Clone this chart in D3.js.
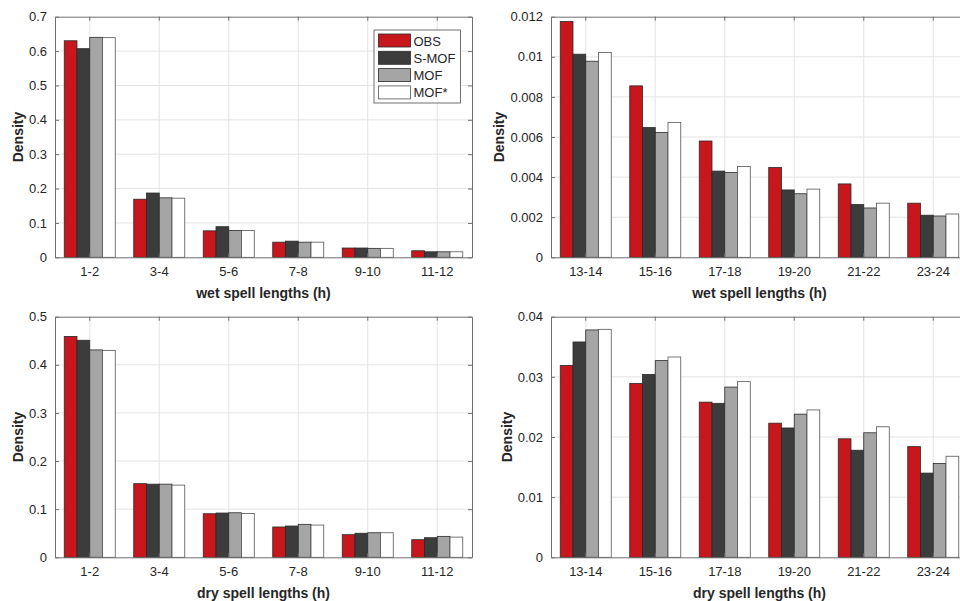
<!DOCTYPE html>
<html>
<head>
<meta charset="utf-8">
<script src="https://cdn.jsdelivr.net/npm/d3@7"></script>
<style>
  body { margin: 0; background: #fff; }
  svg { display: block; font-family: "Liberation Sans", Arial, Helvetica, sans-serif; }
</style>
</head>
<body>
<div class="vis-chart"></div>
<script>
const series = ['OBS', 'S-MOF', 'MOF', 'MOF*'];
const seriesColors = ['#c8161d', '#3c3c3c', '#a5a5a5', '#ffffff'];

const catsShort = ['1-2', '3-4', '5-6', '7-8', '9-10', '11-12'];
const catsLong = ['13-14', '15-16', '17-18', '19-20', '21-22', '23-24'];

// wet spells, short lengths  [OBS, S-MOF, MOF, MOF*]
const wetShort = [
  [0.630, 0.607, 0.640, 0.639],
  [0.169, 0.187, 0.173, 0.172],
  [0.077, 0.089, 0.078, 0.078],
  [0.044, 0.047, 0.044, 0.044],
  [0.027, 0.027, 0.026, 0.026],
  [0.019, 0.016, 0.016, 0.016]
];
// wet spells, long lengths
const wetLong = [
  [0.01176, 0.01013, 0.00978, 0.01021],
  [0.00855, 0.00647, 0.00623, 0.00673],
  [0.00580, 0.00430, 0.00423, 0.00453],
  [0.00448, 0.00336, 0.00317, 0.00340],
  [0.00366, 0.00263, 0.00246, 0.00270],
  [0.00270, 0.00210, 0.00206, 0.00216]
];
// dry spells, short lengths
const dryShort = [
  [0.459, 0.451, 0.431, 0.430],
  [0.153, 0.152, 0.152, 0.150],
  [0.0905, 0.092, 0.0925, 0.091],
  [0.063, 0.065, 0.0685, 0.067],
  [0.047, 0.050, 0.051, 0.051],
  [0.0366, 0.0407, 0.0435, 0.042]
];
// dry spells, long lengths
const dryLong = [
  [0.0319, 0.0358, 0.0378, 0.0379],
  [0.0289, 0.0304, 0.0327, 0.0333],
  [0.0258, 0.0256, 0.0283, 0.0292],
  [0.0223, 0.0215, 0.0238, 0.0245],
  [0.0197, 0.0178, 0.0207, 0.0217],
  [0.0184, 0.0140, 0.0156, 0.0168]
];

const ticksWetShort = [0, 0.1, 0.2, 0.3, 0.4, 0.5, 0.6, 0.7];
const ticksWetLong = [0, 0.002, 0.004, 0.006, 0.008, 0.01, 0.012];
const ticksDryShort = [0, 0.1, 0.2, 0.3, 0.4, 0.5];
const ticksDryLong = [0, 0.01, 0.02, 0.03, 0.04];

const panels = [
  {cats: catsShort, data: wetShort, ticks: ticksWetShort, xlab: 'wet spell lengths (h)', left: 55, top: 16.7, legend: true},
  {cats: catsLong, data: wetLong, ticks: ticksWetLong, xlab: 'wet spell lengths (h)', left: 551, top: 16.7},
  {cats: catsShort, data: dryShort, ticks: ticksDryShort, xlab: 'dry spell lengths (h)', left: 55, top: 316.7},
  {cats: catsLong, data: dryLong, ticks: ticksDryLong, xlab: 'dry spell lengths (h)', left: 551, top: 316.7}
];

const width = 960, height = 601;
const pw = 417, ph = 240.6;
const axisColor = '#707070';
const gridColor = '#e3e3e3';
const textColor = '#262626';

const svg = d3.select('.vis-chart').append('svg')
  .attr('width', width).attr('height', height)
  .attr('viewBox', '0 0 ' + width + ' ' + height);

const fmt = d => String(+d.toFixed(4));

panels.forEach(p => {
  const g = svg.append('g').attr('transform', 'translate(' + p.left + ',' + p.top + ')');

  const pi = 0.266;
  const x = d3.scaleBand().domain(p.cats).range([0, pw]).paddingInner(pi).paddingOuter(pi / 2);
  const xs = d3.scaleBand().domain(series).range([0, x.bandwidth()]);
  const y = d3.scaleLinear().domain([0, d3.max(p.ticks)]).range([ph, 0]);

  // grid
  g.selectAll('line.gy').data(p.ticks.slice(1, -1)).enter().append('line')
    .attr('x1', 0).attr('x2', pw)
    .attr('y1', d => y(d)).attr('y2', d => y(d))
    .attr('stroke', gridColor).attr('stroke-width', 1);
  g.selectAll('line.gx').data(p.cats).enter().append('line')
    .attr('x1', d => x(d) + x.bandwidth() / 2).attr('x2', d => x(d) + x.bandwidth() / 2)
    .attr('y1', 0).attr('y2', ph)
    .attr('stroke', gridColor).attr('stroke-width', 1);

  // bars
  const grp = g.selectAll('g.cat').data(p.data).enter().append('g')
    .attr('transform', (d, i) => 'translate(' + x(p.cats[i]) + ',0)');
  grp.selectAll('rect').data(d => d).enter().append('rect')
    .attr('x', (d, j) => xs(series[j]))
    .attr('y', d => y(d))
    .attr('width', xs.bandwidth())
    .attr('height', d => ph - y(d))
    .attr('fill', (d, j) => seriesColors[j])
    .attr('stroke', (d, j) => j === 3 ? '#555' : '#2a2a2a')
    .attr('stroke-width', 0.8);

  // axes box with inside ticks
  const yAxis = d3.axisLeft(y).tickValues(p.ticks).tickFormat(fmt).tickSizeInner(-4).tickSizeOuter(0).tickPadding(8);
  const yAxisR = d3.axisRight(y).tickValues(p.ticks).tickFormat('').tickSizeInner(-4).tickSizeOuter(0);
  const xAxis = d3.axisBottom(x).tickSizeInner(-4).tickSizeOuter(0).tickPadding(9);
  const xAxisT = d3.axisTop(x).tickFormat('').tickSizeInner(-4).tickSizeOuter(0);

  const styleAxis = sel => {
    sel.selectAll('path, line').attr('stroke', axisColor);
    sel.selectAll('text').attr('fill', textColor).attr('font-size', 13);
  };
  const ya = g.append('g').call(yAxis).call(styleAxis);
  g.append('g').attr('transform', 'translate(' + pw + ',0)').call(yAxisR).call(styleAxis);
  g.append('g').attr('transform', 'translate(0,' + ph + ')').call(xAxis).call(styleAxis);
  g.append('g').call(xAxisT).call(styleAxis);

  // widest tick label decides where the y title sits
  let maxW = 0;
  ya.selectAll('text').each(function(){ maxW = Math.max(maxW, this.getComputedTextLength()); });

  // labels
  g.append('text')
    .attr('x', pw / 2).attr('y', ph + 41)
    .attr('text-anchor', 'middle')
    .attr('font-size', 14).attr('font-weight', 'bold').attr('fill', textColor)
    .text(p.xlab);
  g.append('text')
    .attr('transform', 'translate(' + (-(8 + maxW + 6)) + ',' + (ph / 2) + ') rotate(-90)')
    .attr('text-anchor', 'middle')
    .attr('font-size', 14).attr('font-weight', 'bold').attr('fill', textColor)
    .text('Density');

  if (p.legend) {
    const lg = g.append('g').attr('transform', 'translate(319,13.3)');
    lg.append('rect').attr('width', 86.5).attr('height', 73)
      .attr('fill', '#fff').attr('stroke', axisColor).attr('stroke-width', 1);
    const it = lg.selectAll('g.it').data(series).enter().append('g')
      .attr('transform', (d, i) => 'translate(4.5,' + (4 + i * 17.3) + ')');
    it.append('rect').attr('width', 32).attr('height', 13)
      .attr('fill', (d, i) => seriesColors[i])
      .attr('stroke', (d, i) => i === 3 ? '#555' : '#2a2a2a').attr('stroke-width', 0.8);
    it.append('text').attr('x', 35).attr('y', 11.5)
      .attr('font-size', 13).attr('fill', textColor)
      .text(d => d);
  }
});
</script>
</body>
</html>
